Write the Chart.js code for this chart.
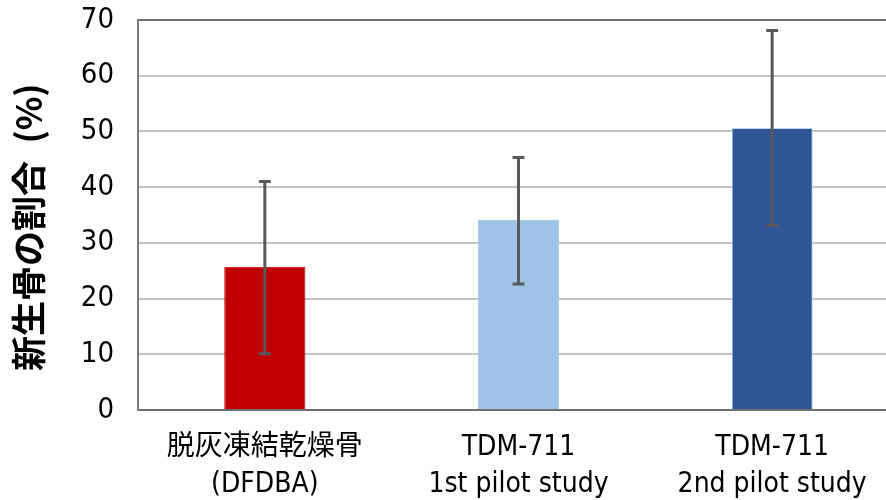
<!DOCTYPE html>
<html><head><meta charset="utf-8">
<script src="https://cdn.jsdelivr.net/npm/chart.js@4"></script>
<style>html,body{margin:0;padding:0;background:#fff;overflow:hidden;}#wrap{width:900px;height:500px;}</style>
</head><body><div id="wrap"><canvas id="c"></canvas></div>
<script>
const categories = [["脱灰凍結乾燥骨","(DFDBA)"],["TDM-711","1st pilot study"],["TDM-711","2nd pilot study"]];
const means = [25.7, 34.1, 50.6];
const errLow = [10.1, 22.6, 33.1];
const errHigh = [41.0, 45.3, 68.1];
const barColors = ["#C00000", "#9DC3E6", "#2F5597"];
const yTitle = "新生骨の割合\u2002(%)\u2002\u2009";

const FONT = '"DejaVu Sans Condensed","Noto Sans CJK JP",sans-serif';

const errorBars = {
  id: 'errorBars',
  afterDatasetsDraw(chart) {
    const ctx = chart.ctx, x = chart.scales.x, y = chart.scales.y;
    ctx.save();
    ctx.strokeStyle = '#595959';
    ctx.lineWidth = 3;
    categories.forEach((c, i) => {
      const px = x.getPixelForValue(i);
      const yl = y.getPixelForValue(errLow[i]);
      const yh = y.getPixelForValue(errHigh[i]);
      ctx.beginPath();
      ctx.moveTo(px, yl); ctx.lineTo(px, yh);
      ctx.moveTo(px - 6, yl); ctx.lineTo(px + 6, yl);
      ctx.moveTo(px - 6, yh); ctx.lineTo(px + 6, yh);
      ctx.stroke();
    });
    ctx.restore();
  }
};

new Chart(document.getElementById('c'), {
  type: 'bar',
  data: {
    labels: categories,
    datasets: [{
      data: means,
      backgroundColor: barColors,
      borderColor: ["#C00000", "#A9CBEA", "#BDD7EE"],
      borderWidth: 1,
      barPercentage: 0.32,
      categoryPercentage: 1.0
    }]
  },
  options: {
    responsive: true,
    maintainAspectRatio: false,
    animation: false,
    devicePixelRatio: 1,
    layout: { padding: { top: 20, right: 1, left: 0, bottom: 0 } },
    plugins: { legend: { display: false }, tooltip: { enabled: false } },
    scales: {
      x: {
        grid: { display: false, drawTicks: false },
        border: { display: true, color: '#6e6e6e', width: 2 },
        ticks: { color: '#000', font: { family: FONT, size: 28, lineHeight: 1.32 }, padding: 19, maxRotation: 0, autoSkip: false },
        afterFit: s => { s.height = 90; }
      },
      y: {
        min: 0, max: 70,
        ticks: { stepSize: 10, color: '#000', font: { family: FONT, size: 29 }, padding: 24 },
        grid: { drawTicks: false, lineWidth: 2, color: ctx => (ctx.tick && (ctx.tick.value === 70 || ctx.tick.value === 0)) ? '#6e6e6e' : '#c4c4c4' },
        border: { display: true, color: '#7a7a7a', width: 2 },
        title: { display: true, text: yTitle, color: '#000', font: { family: '"Noto Sans CJK JP",sans-serif', size: 35, weight: 'bold', lineHeight: 1.2 }, padding: { top: 8, bottom: 0 } },
        afterFit: s => { s.width = 138; s.paddingTop = 0; s.paddingBottom = 0; }
      }
    }
  },
  plugins: [errorBars]
});
</script>
</body></html>
